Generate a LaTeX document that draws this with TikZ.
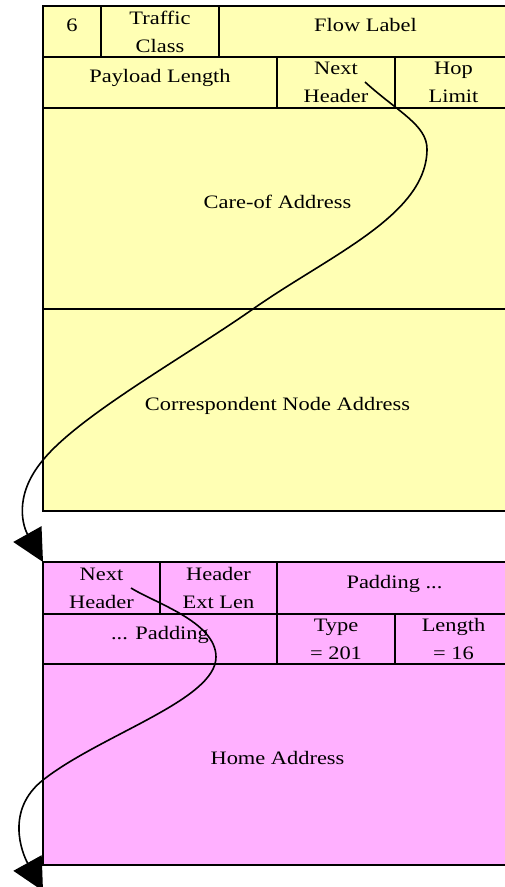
\documentclass[tikz,border=0pt]{standalone}
\usepackage{fontspec}
\setmainfont{Liberation Serif}[FakeStretch=1.18]
\usetikzlibrary{arrows.meta}
\definecolor{hdryellow}{RGB}{255,255,180}
\definecolor{hdrpink}{RGB}{255,176,255}
\tikzset{
  cell/.style 2 args={draw=black, line width=1.5pt, anchor=north west,
    inner sep=0pt, outer sep=0pt, align=center,
    font=\fontsize{19}{28}\selectfont,
    minimum width=#1, minimum height=#2},
  ycell/.style 2 args={cell={#1}{#2}, fill=hdryellow},
  pcell/.style 2 args={cell={#1}{#2}, fill=hdrpink},
  one/.style={text height=13pt, text depth=13pt},
  conn/.style={draw=black, line width=1.6pt,
    -{Triangle[length=32pt,width=32pt]}}
}
\begin{document}
\begin{tikzpicture}[x=1pt,y=-1pt]
\useasboundingbox (0,0) rectangle (505,887);
\clip (0,0) rectangle (505,887);
% IPv6 header (yellow)
\node[ycell={58pt}{51pt},one]  (ver) at (43,6)   {6};
\node[ycell={118pt}{51pt}]     (tc)  at (101,6)  {Traffic\\Class};
\node[ycell={293pt}{51pt},one] (fl)  at (219,6)  {Flow Label};
\node[ycell={234pt}{51pt},one] (pl)  at (43,57)  {Payload Length};
\node[ycell={118pt}{51pt}]     (nh)  at (277,57) {Next\\Header};
\node[ycell={117pt}{51pt}]     (hl)  at (395,57) {Hop\\Limit};
\node[ycell={469pt}{201pt},one] (coa) at (43,108) {Care-of Address};
\node[ycell={469pt}{202pt},one] (cna) at (43,309) {Correspondent Node Address};
% Destination options header (pink)
\node[pcell={117pt}{52pt}]     (pnh)  at (43,562)  {Next\\Header};
\node[pcell={117pt}{52pt}]     (hel)  at (160,562) {Header\\Ext Len};
\node[pcell={235pt}{52pt},one] (pad1) at (277,562) {Padding ...};
\node[pcell={234pt}{50pt},one] (pad2) at (43,614)  {... Padding};
\node[pcell={118pt}{50pt}]     (typ)  at (277,614) {Type\\= 201};
\node[pcell={117pt}{50pt}]     (len)  at (395,614) {Length\\= 16};
\node[pcell={469pt}{201pt},one] (home) at (43,664) {Home Address};
% connectors
\coordinate (s1) at (365,82);
\coordinate (a1) at (427,149);
\coordinate (b1) at (253,309);
\coordinate (c1) at (43,460);
\draw[conn] (s1) .. controls (398,112) and (427,125) .. (a1)
  .. controls (427,215) and (330,255) .. (b1)
  .. controls (183,358) and (80,415) .. (c1)
  .. controls (12,497) and (24,528) .. (pnh.north west);
\coordinate (s2) at (131,588);
\coordinate (a2) at (216,657);
\coordinate (b2) at (43,780);
\coordinate (e2) at (43,891);
\draw[conn] (s2) .. controls (155,603) and (216,622) .. (a2)
  .. controls (216,700) and (100,735) .. (b2)
  .. controls (5,810) and (22,853) .. (e2);
\end{tikzpicture}
\end{document}
